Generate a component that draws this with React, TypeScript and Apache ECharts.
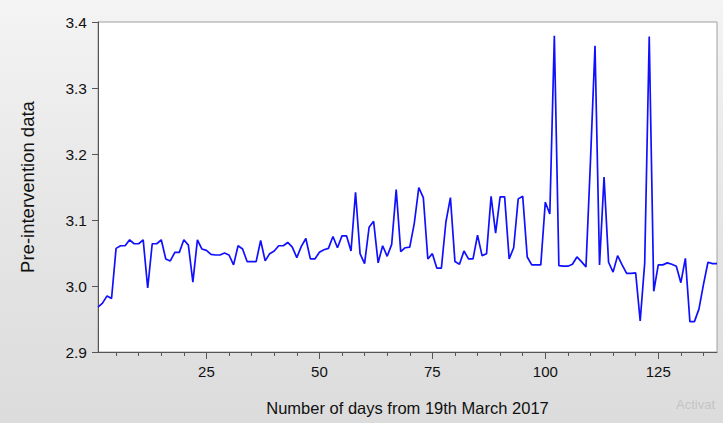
import React, { useEffect, useRef } from "react";
import * as echarts from "echarts";

const values: number[] = [
  2.968, 2.974, 2.985, 2.981, 3.057, 3.061, 3.061, 3.07, 3.064, 3.064,
  3.07, 2.997, 3.064, 3.064, 3.07, 3.041, 3.038, 3.051, 3.051, 3.07,
  3.062, 3.006, 3.07, 3.056, 3.054, 3.048, 3.047, 3.047, 3.05, 3.047,
  3.032, 3.061, 3.056, 3.037, 3.037, 3.037, 3.069, 3.038, 3.049, 3.053,
  3.061, 3.061, 3.066, 3.059, 3.043, 3.06, 3.072, 3.041, 3.041, 3.051,
  3.055, 3.057, 3.075, 3.058, 3.076, 3.076, 3.053, 3.142, 3.049, 3.034,
  3.089, 3.098, 3.035, 3.061, 3.045, 3.063, 3.146, 3.052, 3.058, 3.059,
  3.095, 3.149, 3.134, 3.041, 3.049, 3.027, 3.027, 3.097, 3.134, 3.037,
  3.033, 3.053, 3.041, 3.041, 3.077, 3.046, 3.049, 3.136, 3.08, 3.135,
  3.135, 3.041, 3.058, 3.132, 3.136, 3.044, 3.032, 3.032, 3.032, 3.127,
  3.109, 3.379, 3.031, 3.03, 3.03, 3.033, 3.044, 3.037, 3.029, 3.19,
  3.364, 3.032, 3.165, 3.036, 3.021, 3.046, 3.032, 3.019, 3.019, 3.02,
  2.947, 3.035, 3.378, 2.992, 3.032, 3.032, 3.035, 3.033, 3.03, 3.005,
  3.042, 2.946, 2.946, 2.965, 3.002, 3.036, 3.034, 3.034,
];
const days: number[] = values.map((_, i) => i + 1);
const minorTickDays: number[] = [5, 10, 15, 20, 25, 30, 35, 40, 45, 50, 55, 60, 65, 70, 75, 80, 85, 90, 95, 100, 105, 110, 115, 120, 125, 130, 135];
const majorTickDays: number[] = [25, 50, 75, 100, 125];
const xTitle = "Number of days from 19th March 2017";
const yTitle = "Pre-intervention data";

export default function App() {
  const ref = useRef<HTMLDivElement>(null);
  useEffect(() => {
    if (!ref.current) return;
    const chart = echarts.init(ref.current, undefined, { renderer: "svg" });
    const font = "Liberation Sans, Arial, sans-serif";
    chart.setOption({
      animation: false,
      backgroundColor: "transparent",
      grid: {
        left: 98,
        right: 6,
        top: 22,
        bottom: 71,
        show: true,
        backgroundColor: "#ffffff",
        borderColor: "#a0a0a0",
        borderWidth: 1,
      },
      xAxis: [
        {
          type: "value",
          min: 1,
          max: 138,
          name: xTitle,
          nameLocation: "middle",
          nameGap: 47,
          nameTextStyle: { color: "#111", fontSize: 16.5, fontFamily: font },
          axisLine: { show: true, lineStyle: { color: "#555", width: 1 } },
          axisTick: { show: true, length: 4, lineStyle: { color: "#555" }, customValues: minorTickDays },
          axisLabel: { show: false },
          splitLine: { show: false },
        },
        {
          type: "value",
          min: 1,
          max: 138,
          position: "bottom",
          axisLine: { show: false },
          axisTick: { show: true, length: 7, lineStyle: { color: "#555" }, customValues: majorTickDays },
          axisLabel: {
            show: true,
            customValues: majorTickDays,
            color: "#111",
            fontSize: 15,
            fontFamily: font,
            margin: 12,
          },
          splitLine: { show: false },
        },
      ],
      yAxis: {
        type: "value",
        min: 2.9,
        max: 3.4,
        interval: 0.1,
        name: yTitle,
        nameLocation: "middle",
        nameGap: 61,
        nameRotate: 90,
        nameTextStyle: { color: "#111", fontSize: 18.5, fontFamily: font },
        axisLine: { show: true, lineStyle: { color: "#555", width: 1 } },
        axisTick: { show: true, length: 6, lineStyle: { color: "#555" } },
        axisLabel: {
          color: "#111",
          fontSize: 15.5,
          fontFamily: font,
          margin: 11,
          formatter: (v: number) => v.toFixed(1),
        },
        splitLine: { show: false },
      },
      graphic: [
        {
          type: "text",
          left: 676,
          top: 398,
          silent: true,
          style: { text: "Activat", fill: "#c4c4c4", fontSize: 13, fontFamily: font },
        },
      ],
      series: [
        {
          type: "line",
          xAxisIndex: 0,
          data: days.map((d, i) => [d, values[i]]),
          showSymbol: false,
          lineStyle: { color: "#1010ff", width: 1.7 },
          itemStyle: { color: "#1010ff" },
        },
      ],
    });
    return () => chart.dispose();
  }, []);
  return (
    <div
      ref={ref}
      style={{
        position: "fixed",
        left: 0,
        top: 0,
        width: 723,
        height: 423,
        background: "linear-gradient(to bottom, #f4f4f4 0%, #e6e6e6 50%, #dcdcdc 100%)",
      }}
    />
  );
}
